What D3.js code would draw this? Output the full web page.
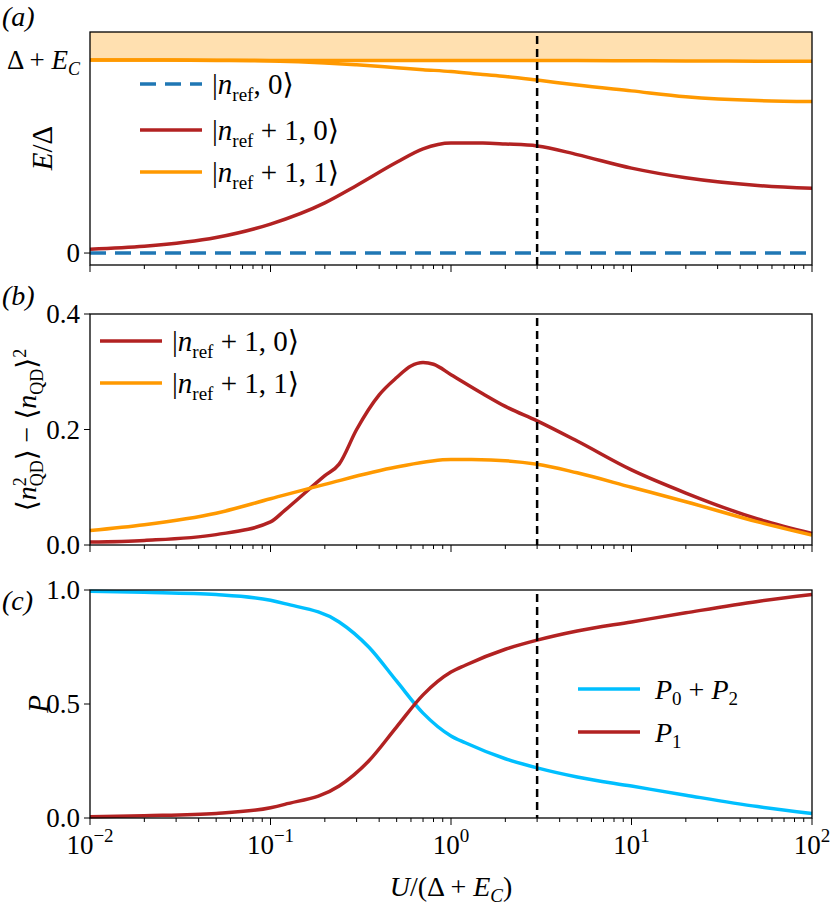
<!DOCTYPE html><html><head><meta charset="utf-8"><script src="https://cdn.jsdelivr.net/npm/d3@7"></script>
<style>body{margin:0;background:#fff}text{font-family:"Liberation Serif","DejaVu Serif",serif}</style></head><body><svg width="830" height="909"></svg><script>
const uA=[0.01,0.02,0.05,0.1,0.2,0.3,0.5,0.7,1,1.5,2,3,5,10,20,50,100];
const aRed=[0.02,0.035,0.08,0.15,0.26,0.35,0.47,0.54,0.57,0.57,0.565,0.555,0.51,0.44,0.39,0.35,0.335];
const aOrangeLow=[1.0,1.0,0.998,0.995,0.985,0.975,0.96,0.95,0.94,0.925,0.915,0.896,0.87,0.84,0.81,0.79,0.785];
const aOrangeUp=[1.0,1.0,0.999,0.998,0.997,0.997,0.997,0.997,0.998,0.998,0.998,0.998,0.997,0.996,0.995,0.994,0.994];
const aBlue=[0,0,0,0,0,0,0,0,0,0,0,0,0,0,0,0,0];
const uB=[0.01,0.02,0.05,0.1,0.12,0.2,0.24,0.3,0.4,0.5,0.6,0.7,0.8,1,1.5,2,3,5,10,20,50,100];
const bRed=[0.005,0.008,0.018,0.04,0.06,0.12,0.14,0.2,0.26,0.29,0.31,0.316,0.313,0.295,0.262,0.24,0.215,0.18,0.13,0.09,0.045,0.02];
const uB2=[0.01,0.02,0.05,0.1,0.2,0.5,1,1.3,3,5,10,20,50,100];
const bOrange=[0.025,0.035,0.055,0.08,0.105,0.135,0.148,0.148,0.14,0.125,0.1,0.075,0.04,0.017];
const uC=[0.01,0.02,0.05,0.1,0.12,0.24,0.35,0.5,0.7,1,1.2,2,3,5,10,20,50,100];
const cP02=[0.995,0.99,0.98,0.955,0.94,0.86,0.75,0.6,0.46,0.36,0.33,0.26,0.22,0.18,0.14,0.1,0.05,0.02];
const cP1=[0.005,0.01,0.02,0.045,0.06,0.14,0.25,0.4,0.54,0.64,0.67,0.74,0.78,0.82,0.86,0.9,0.95,0.98];
const xTicks=[-2,-1,0,1,2];
const vLine=3.0;
const svg=d3.select("svg");
const L=90,R=812;
const x=d3.scaleLog().domain([0.01,100]).range([L,R]);
const red="#b22222",orange="#ff9900",blue="#1f77b4",cyan="#00bfff";
function panel(top,bot,dom){
 const y=d3.scaleLinear().domain(dom).range([bot,top]);
 const g=svg.append("g");
 return {g,y,top,bot};
}
function frame(p,labelTicks){
 const g=p.g;
 g.append("rect").attr("x",L).attr("y",p.top).attr("width",R-L).attr("height",p.bot-p.top).attr("fill","none").attr("stroke","#000").attr("stroke-width",1.3);
 const ticksAll=d3.range(-2,2).flatMap(e=>d3.range(1,10).map(k=>k*10**e)).concat([100]);
 ticksAll.forEach(t=>{const major=Math.abs(Math.log10(t)-Math.round(Math.log10(t)))<1e-9;
  g.append("line").attr("x1",x(t)).attr("x2",x(t)).attr("y1",p.bot).attr("y2",p.bot+(major?7:4)).attr("stroke","#000").attr("stroke-width",1)});
 if(labelTicks){xTicks.forEach(e=>{const t=g.append("text").attr("x",x(10**e)).attr("y",p.bot+36).attr("text-anchor","middle").attr("font-size",27);
  t.append("tspan").text("10");t.append("tspan").attr("dy",-12).attr("font-size",19).text(e<0?"−"+(-e):e);});}
 g.append("line").attr("x1",x(vLine)).attr("x2",x(vLine)).attr("y1",p.top+4).attr("y2",p.bot).attr("stroke","#000").attr("stroke-width",2.5).attr("stroke-dasharray","8,5");
}
function line(p,xs,ys,col,dash){
 p.g.append("path").datum(xs.map((u,i)=>[u,ys[i]])).attr("d",d3.line().x(d=>x(d[0])).y(d=>p.y(d[1])).curve(d3.curveMonotoneX)).attr("fill","none").attr("stroke",col).attr("stroke-width",3.5).attr("stroke-dasharray",dash||null);
}
function ytick(p,v,label){
 p.g.append("line").attr("x1",L-6).attr("x2",L).attr("y1",p.y(v)).attr("y2",p.y(v)).attr("stroke","#000");
 p.g.append("text").attr("x",L-10).attr("y",p.y(v)+9).attr("text-anchor","end").attr("font-size",27).text(label);
}
function ket(g,xp,yp,plus){
 const t=g.append("text").attr("x",xp).attr("y",yp).attr("font-size",29);
 t.append("tspan").text("|");t.append("tspan").attr("font-style","italic").text("n");
 t.append("tspan").attr("dy",7).attr("font-size",19).text("ref");
 t.append("tspan").attr("dy",-7).text(plus);
}
function legLine(g,x1,yp,col,dash){g.append("line").attr("x1",x1).attr("x2",x1+62).attr("y1",yp).attr("y2",yp).attr("stroke",col).attr("stroke-width",3.5).attr("stroke-dasharray",dash||null);}
function plabel(t,yp){svg.append("text").attr("x",2).attr("y",yp).attr("font-size",28).attr("font-style","italic").text(t);}

// Panel a
const pa=panel(32,265,[-0.062,1.145]);
pa.g.append("rect").attr("x",L).attr("y",32).attr("width",R-L).attr("height",pa.y(1)-32).attr("fill","#ffe0b0");
line(pa,uA,aBlue,blue,"16,9");
line(pa,uA,aRed,red);
line(pa,uA,aOrangeLow,orange);
line(pa,uA,aOrangeUp,orange);
frame(pa,false);
ytick(pa,0,"0");
{const t=pa.g.append("text").attr("x",L-10).attr("y",pa.y(1)+9).attr("text-anchor","end").attr("font-size",27);t.append("tspan").text("Δ + ");t.append("tspan").attr("font-style","italic").text("E");t.append("tspan").attr("dy",6).attr("font-size",18).attr("font-style","italic").text("C");}
svg.append("text").attr("transform","translate(52,148) rotate(-90)").attr("text-anchor","middle").attr("font-size",29).html('<tspan font-style="italic">E</tspan>/Δ');
legLine(pa.g,140,84,blue,"16,9");ket(pa.g,212,94,", 0⟩");
legLine(pa.g,140,130,red);ket(pa.g,212,140," + 1, 0⟩");
legLine(pa.g,140,172,orange);ket(pa.g,212,182," + 1, 1⟩");
plabel("(a)",26);

// Panel b
const pb=panel(314,545,[0,0.4]);
line(pb,uB,bRed,red);line(pb,uB2,bOrange,orange);
frame(pb,false);
[[0,"0.0"],[0.2,"0.2"],[0.4,"0.4"]].forEach(d=>ytick(pb,d[0],d[1]));
svg.append("text").attr("transform","translate(36,430) rotate(-90)").attr("text-anchor","middle").attr("font-size",28).html('⟨<tspan font-style="italic">n</tspan><tspan dy="-10" font-size="18">2</tspan><tspan dy="17" font-size="18" dx="-9">QD</tspan><tspan dy="-7">⟩ − ⟨</tspan><tspan font-style="italic">n</tspan><tspan dy="7" font-size="18">QD</tspan><tspan dy="-7">⟩</tspan><tspan dy="-10" font-size="18">2</tspan>');
legLine(pb.g,100,341,red);ket(pb.g,172,351," + 1, 0⟩");
legLine(pb.g,100,383,orange);ket(pb.g,172,393," + 1, 1⟩");
plabel("(b)",305);

// Panel c
const pc=panel(590,818,[0,1]);
line(pc,uC,cP02,cyan);line(pc,uC,cP1,red);
frame(pc,true);
[[0,"0.0"],[0.5,"0.5"],[1,"1.0"]].forEach(d=>ytick(pc,d[0],d[1]));
svg.append("text").attr("transform","translate(48,704) rotate(-90)").attr("text-anchor","middle").attr("font-size",29).attr("font-style","italic").text("P");
legLine(pc.g,578,689,cyan);
{const t=pc.g.append("text").attr("x",655).attr("y",699).attr("font-size",28);t.append("tspan").attr("font-style","italic").text("P");t.append("tspan").attr("dy",6).attr("font-size",19).text("0");t.append("tspan").attr("dy",-6).text(" + ");t.append("tspan").attr("font-style","italic").text("P");t.append("tspan").attr("dy",6).attr("font-size",19).text("2");}
legLine(pc.g,578,732,red);
{const t=pc.g.append("text").attr("x",655).attr("y",742).attr("font-size",28);t.append("tspan").attr("font-style","italic").text("P");t.append("tspan").attr("dy",6).attr("font-size",19).text("1");}
plabel("(c)",610);
svg.append("text").attr("x",451).attr("y",896).attr("text-anchor","middle").attr("font-size",28).html('<tspan font-style="italic">U</tspan>/(Δ + <tspan font-style="italic">E</tspan><tspan dy="6" font-size="19" font-style="italic">C</tspan><tspan dy="-6">)</tspan>');
</script></body></html>
